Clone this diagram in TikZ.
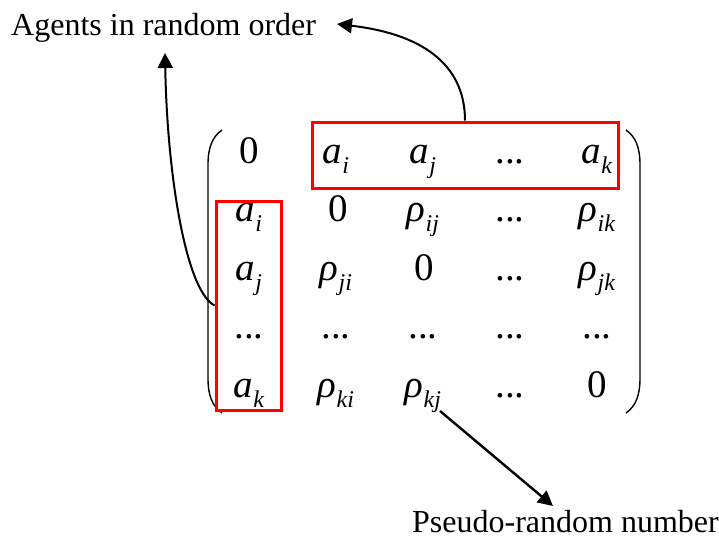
\documentclass[tikz,border=0pt]{standalone}
\usepackage{fontspec}
\setmainfont{Liberation Serif}
\usetikzlibrary{arrows.meta}
\newcommand\msub[1]{\raisebox{-10pt}{\fontsize{24}{24}\selectfont\itshape #1}}
\newcommand\av[1]{\textit{a}\msub{#1}}
\newcommand\rv[1]{\textit{ρ}\msub{#1}}
\begin{document}
\begin{tikzpicture}[x=1pt,y=-1pt,
  ent/.style={anchor=base, inner sep=0pt, font=\fontsize{39}{42}\selectfont},
  redbox/.style={draw=red, line width=3pt, inner sep=0pt},
  lbl/.style={font=\fontsize{32}{36}\selectfont, inner sep=0pt, anchor=base west},
  arr/.style={line width=2pt, -{Triangle[length=15pt,width=15pt]}},
  paren/.style={line width=1.4pt}]
\useasboundingbox (0,0) rectangle (719,538);
% labels
\node[lbl] (title) at (11,35) {Agents in random order};
\node[lbl] (pseudo) at (412,532) {Pseudo-random number};
% matrix entries
\node[ent] (m11) at (249,163) {0};
\node[ent] (m12) at (336,163) {\av{i}};
\node[ent] (m13) at (423,163) {\av{j}};
\node[ent] (m14) at (510,163) {...};
\node[ent] (m15) at (597,163) {\av{k}};
\node[ent] (m21) at (249,221.5) {\av{i}};
\node[ent] (m22) at (338,221.5) {0};
\node[ent] (m23) at (423,221.5) {\rv{ij}};
\node[ent] (m24) at (510,221.5) {...};
\node[ent] (m25) at (597,221.5) {\rv{ik}};
\node[ent] (m31) at (249,280) {\av{j}};
\node[ent] (m32) at (336,280) {\rv{ji}};
\node[ent] (m33) at (424,280) {0};
\node[ent] (m34) at (510,280) {...};
\node[ent] (m35) at (597,280) {\rv{jk}};
\node[ent] (m41) at (249,338.5) {...};
\node[ent] (m42) at (336,338.5) {...};
\node[ent] (m43) at (423,338.5) {...};
\node[ent] (m44) at (510,338.5) {...};
\node[ent] (m45) at (597,338.5) {...};
\node[ent] (m51) at (249,397) {\av{k}};
\node[ent] (m52) at (336,397) {\rv{ki}};
\node[ent] (m53) at (423,397) {\rv{kj}};
\node[ent] (m54) at (510,397) {...};
\node[ent] (m55) at (597,397) {0};
% parentheses
\draw[paren] (222,130) .. controls (212,137) and (208,148) .. (208,165) -- (208,378) .. controls (208,395) and (212,406) .. (222,413);
\draw[paren] (626,130) .. controls (636,137) and (640,148) .. (640,165) -- (640,378) .. controls (640,395) and (636,406) .. (626,413);
% red boxes
\node[redbox, minimum width=306pt, minimum height=66pt] (topbox) at (465,155) {};
\node[redbox, minimum width=65pt, minimum height=209pt] (leftbox) at (248.5,305.5) {};
% arrow endpoints
\coordinate (t1) at (337,24);
\coordinate (t2) at (165,53);
\coordinate (s3) at (440,411);
\coordinate (t3) at (553,506);
% arrows
\draw[arr] (topbox.north) .. controls (465,70) and (430,35) .. (t1);
\draw[arr] (leftbox.west) .. controls (185,290) and (167,170) .. (t2);
\draw[arr, line width=2.4pt] (s3) -- (t3);
\end{tikzpicture}
\end{document}
